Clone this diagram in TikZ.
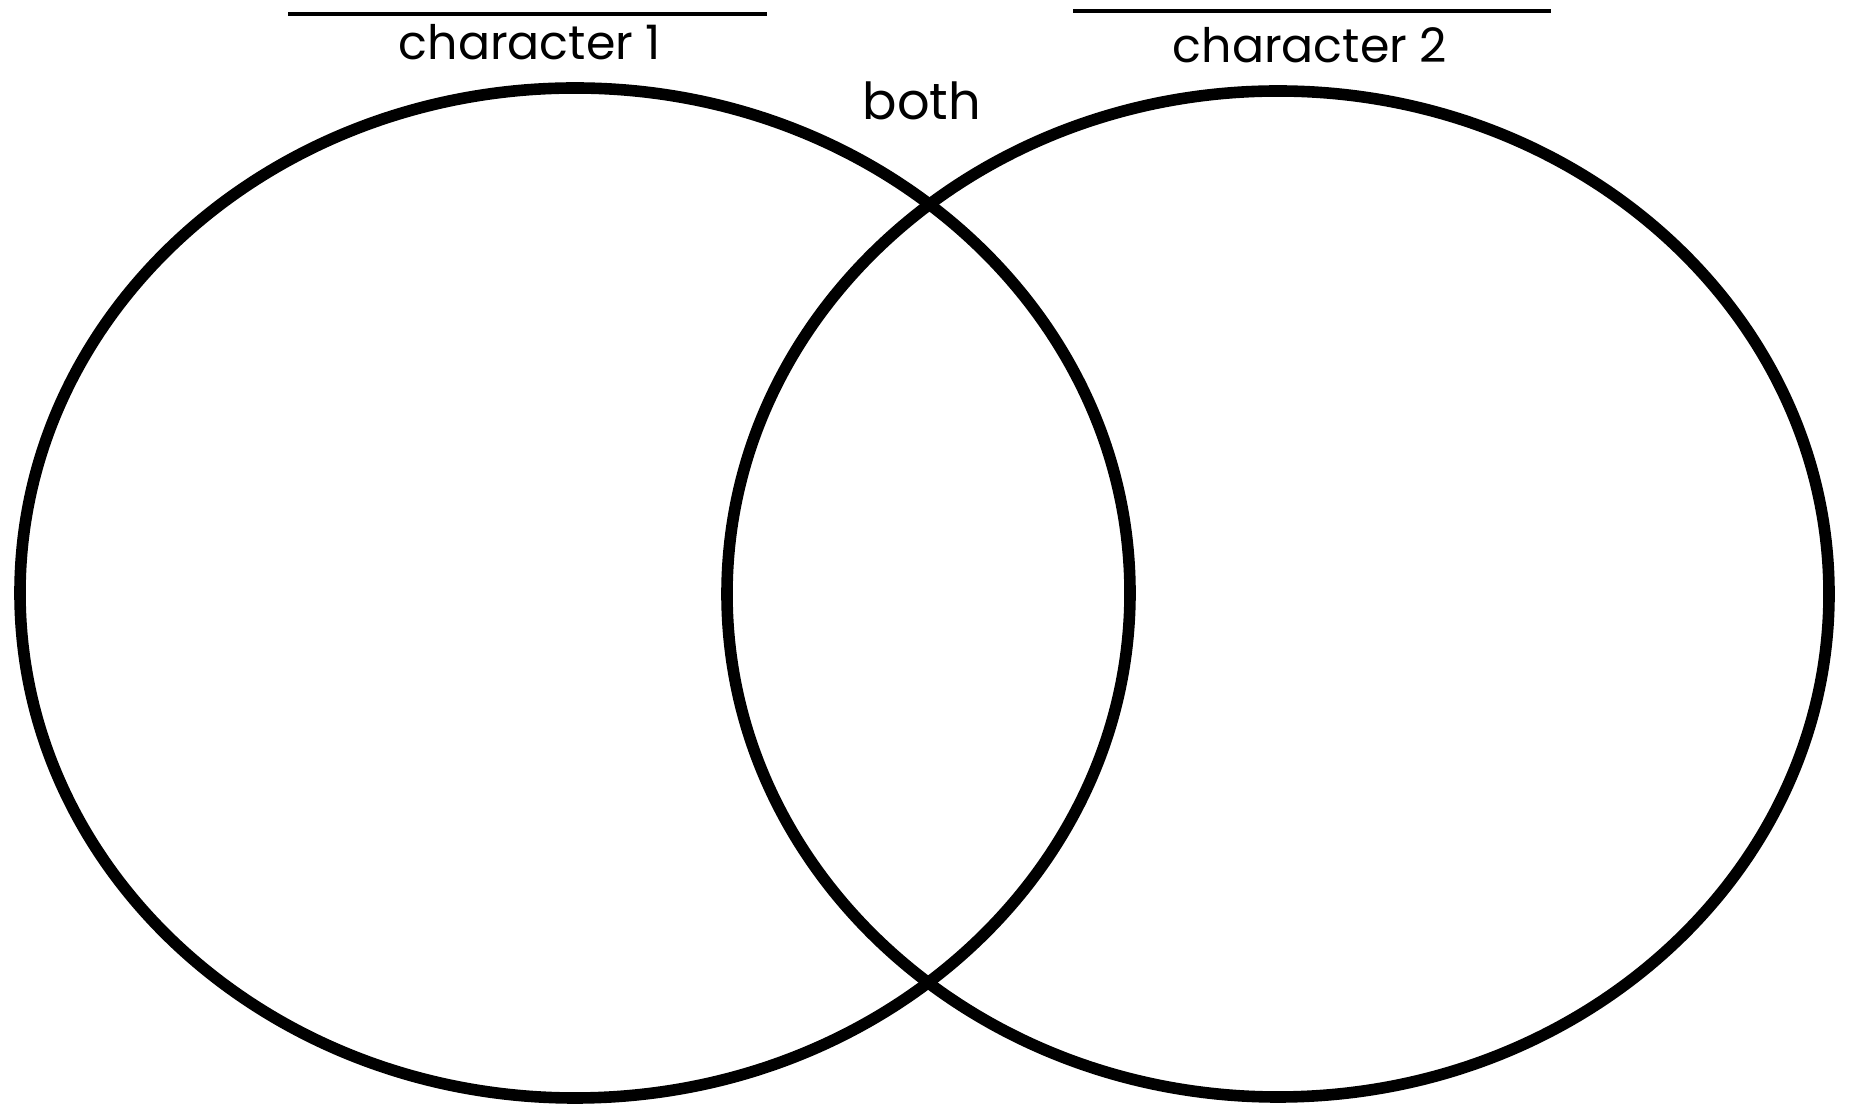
\documentclass[tikz,border=0pt]{standalone}
\usepackage{fontspec}
\setmainfont{Poppins}
\usetikzlibrary{positioning}

\tikzset{
  ring/.style={line width=3.3pt},
  nameline/.style={line width=1.2pt},
  label1/.style={anchor=base,inner sep=0pt,font=\fontsize{13.5}{15}\selectfont},
  label2/.style={anchor=base,inner sep=0pt,font=\fontsize{14.5}{17}\selectfont}
}

\begin{document}
\begin{tikzpicture}[x=0.01cm,y=-0.01cm]
    \useasboundingbox (0,0) rectangle (1851,1104);

    % the two sets
    \draw[ring] (575,593) ellipse [x radius=555, y radius=505];
    \draw[ring] (1278,594) ellipse [x radius=551, y radius=503];

    % blanks for the names
    \coordinate (l1a) at (288,14);
    \coordinate (l1b) at (767,14);
    \coordinate (l2a) at (1073,11);
    \coordinate (l2b) at (1551,11);
    \draw[nameline] (l1a) -- (l1b);
    \draw[nameline] (l2a) -- (l2b);

    \node[label1] (char1) at (530,60) {character 1};
    \node[label1] (char2) at (1310,63) {character 2};
    \node[label2] (both) at (922,120) {both};
  \end{tikzpicture}
\end{document}
